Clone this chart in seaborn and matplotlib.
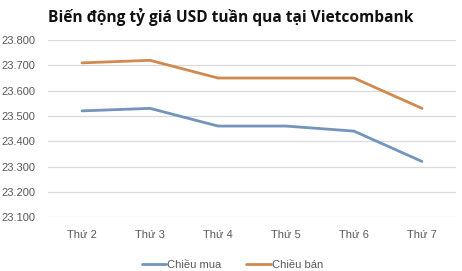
import matplotlib
matplotlib.use("Agg")
import matplotlib.pyplot as plt
import seaborn as sns
import pandas as pd
from matplotlib.ticker import FuncFormatter

days = ["Thứ 2", "Thứ 3", "Thứ 4", "Thứ 5", "Thứ 6", "Thứ 7"]
mua = [23520, 23530, 23460, 23460, 23440, 23320]
ban = [23710, 23720, 23650, 23650, 23650, 23530]
series_names = ["Chiều mua", "Chiều bán"]
yticks = [23100, 23200, 23300, 23400, 23500, 23600, 23700, 23800]

df = pd.DataFrame({
    "day": days * 2,
    "value": mua + ban,
    "series": [series_names[0]] * len(days) + [series_names[1]] * len(days),
})

sns.set_theme(style="white")
plt.rcParams['font.family'] = ['Liberation Sans', 'DejaVu Sans']

fig = plt.figure(figsize=(4.62, 2.71), dpi=100)
ax = fig.add_axes([0.104, 0.199, 0.883, 0.653])

palette = {"Chiều mua": "#7294bd", "Chiều bán": "#d08a50"}
sns.lineplot(data=df, x="day", y="value", hue="series", palette=palette,
             linewidth=2.0, ax=ax, sort=False)

ax.set_xlim(-0.5, len(days) - 0.5)
ax.set_ylim(23100, 23800)
ax.set_yticks(yticks)
ax.yaxis.set_major_formatter(FuncFormatter(lambda v, p: f"{v/1000:.3f}"))
ax.grid(axis="y", color="#d9d9d9", linewidth=0.9)
ax.set_axisbelow(True)
for s in ax.spines.values():
    s.set_visible(False)
ax.set_xlabel("")
ax.set_ylabel("")
ax.tick_params(axis="both", length=0, labelsize=8, colors="#595959")
ax.tick_params(axis="x", pad=9)
ax.tick_params(axis="y", pad=9)

handles, labels = ax.get_legend_handles_labels()
ax.legend(handles, labels, loc="center", bbox_to_anchor=(0.452, -0.27),
          ncol=2, frameon=False, fontsize=8, handlelength=2.2, handletextpad=0.1,
          columnspacing=2.2, labelcolor="#595959")

fig.text(0.5, 0.937, "Biến động tỷ giá USD tuần qua tại Vietcombank",
         ha="center", va="center", fontsize=11.2, fontweight="bold",
         family=["Open Sans", "DejaVu Sans"], color="#111111")

fig.savefig("out.png", dpi=100)
